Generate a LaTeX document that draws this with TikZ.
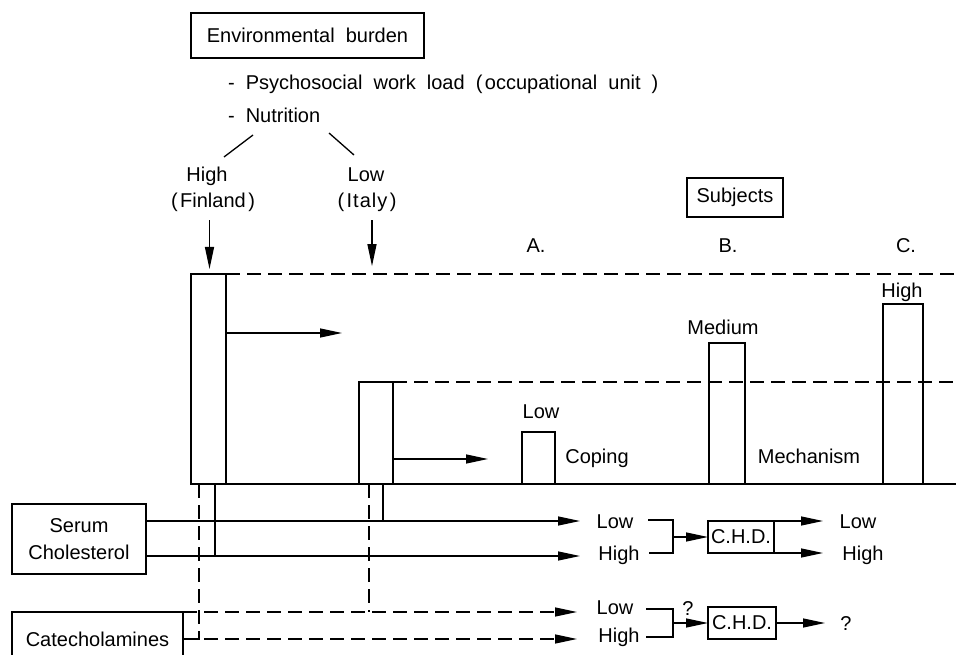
\documentclass[tikz,border=0pt]{standalone}
\usepackage{fontspec}
\setmainfont[WordSpace=2]{Liberation Sans}
\usetikzlibrary{arrows.meta,calc}
\newcommand{\lp}{(\kern2.5pt}
\newcommand{\rp}{\kern2.5pt)}
\begin{document}
\begin{tikzpicture}[x=1pt,y=-1pt,
  every node/.style={font=\fontsize{20}{24}\selectfont, inner sep=0pt, outer sep=0pt},
  box/.style={draw, line width=1.3pt},
  bar/.style={draw, line width=1.9pt},
  conn/.style={line width=1.3pt},
  arr/.style={conn, -{Triangle[length=22pt,width=9pt]}},
  dashline/.style={conn, dash pattern=on 14pt off 7pt},
]
\useasboundingbox (0,0) rectangle (956,655);
\clip (0,0) rectangle (956,655);

% ---- header
\node[box, minimum width=233pt, minimum height=45pt] (env) at (307.5,35.5) {Environmental burden};
\node[anchor=base west] (psy) at (228,90) {- Psychosocial work load \lp occupational unit )};
\node[anchor=base west] (nut) at (228,123) {- Nutrition};
\node[anchor=base] (hi) at (207,182) {High};
\node[anchor=base] (fin) at (213,208) {\lp Finland\rp};
\node[anchor=base] (lo) at (366,182) {Low};
\node[anchor=base] (ita) at (367,208) {\lp I\kern1pt t\kern1pt a\kern1pt l\kern1pt y\rp};

\coordinate (nl1) at (253,135); \coordinate (nl2) at (224,157);
\coordinate (nr1) at (329,133); \coordinate (nr2) at (354,155);
\draw[conn] (nl1) -- (nl2);
\draw[conn] (nr1) -- (nr2);

\node[box, minimum width=96pt, minimum height=39pt] (subj) at (735,197.5) {Subjects};
\node[anchor=base] (la) at (536,252) {A.};
\node[anchor=base] (lb) at (728,252) {B.};
\node[anchor=base] (lc) at (906,252) {C.};

% ---- bars
\node[bar, anchor=south west, minimum width=35pt, minimum height=210pt] (finbar) at (191,484) {};
\node[bar, anchor=south west, minimum width=34pt, minimum height=102pt] (itabar) at (359,484) {};
\node[bar, anchor=south west, minimum width=33pt, minimum height=52pt] (barA) at (522,484) {};
\node[bar, anchor=south west, minimum width=36pt, minimum height=141pt] (barB) at (709,484) {};
\node[bar, anchor=south west, minimum width=40pt, minimum height=180pt] (barC) at (883,484) {};
\coordinate (edge) at (956,484);
\draw[bar] (finbar.south west) -- (edge);

\draw[dashline] (finbar.north east) -- (finbar.north east -| edge);
\draw[dashline] (itabar.north east) -- (itabar.north east -| edge);

\node[anchor=base] (tA) at (541,418) {Low};
\node[anchor=base] (tB) at (723,334) {Medium};
\node[anchor=base] (tC) at (902,297) {High};
\node[anchor=base] (cop) at (597,463) {Coping};
\node[anchor=base] (mech) at (809,463) {Mechanism};

\draw[arr] ($(finbar.north |- fin.south)+(1,8)$) -- ($(finbar.north)+(1,-5)$);
\draw[arr] ($(ita.south)+(5,8)$) -- ($(ita.south)+(5,54)$);
\draw[arr] ($(finbar.north east)+(0,59)$) -- ++(116,0);
\draw[arr] ($(itabar.north east)+(0,77)$) -- ++(95,0);

% ---- risk factors
\node[box, minimum width=134pt, minimum height=70pt, align=center] (serum) at (79,539)
  {Serum\\[3pt]Cholesterol};
\node[box, minimum width=171pt, minimum height=54pt] (cat) at (97.5,639) {Catecholamines};

\coordinate (tipx) at (580,0);
\coordinate (sL) at ($(serum.east)+(0,-18)$);
\coordinate (sH) at ($(serum.east)+(0,17)$);
\draw[arr] (sL) -- (sL -| tipx);
\draw[arr] (sH) -- (sH -| tipx);

\coordinate (fv) at ($(finbar.south west)+(24,0)$);
\coordinate (iv) at ($(itabar.south west)+(24,0)$);
\draw[conn] (fv) -- (fv |- sH);
\draw[conn] (iv) -- (iv |- sL);

\coordinate (fd) at ($(finbar.south west)+(8,0)$);
\coordinate (id) at ($(itabar.south west)+(10,0)$);
\draw[dashline] (fd) -- (fd |- cat.east) -- (cat.east);
\draw[dashline] (id) -- (id |- cat.north);
\draw[dashline, -{Triangle[length=22pt,width=9pt]}] (cat.north east) -- ($(cat.north east -| tipx)+(-3,0)$);
\draw[dashline, -{Triangle[length=22pt,width=9pt]}] (cat.east) -- ($(cat.east -| tipx)+(-3,0)$);

% ---- outcomes
\node[anchor=base] (lowA) at (615,528) {Low};
\node[anchor=base] (highA) at (619,560) {High};
\node[box, minimum width=66pt, minimum height=32pt] (chdA) at (741,537) {C.H.D.};
\node[anchor=base] (rlow) at (858,528) {Low};
\node[anchor=base] (rhigh) at (863,560) {High};
\coordinate (brAt) at (648,520); \coordinate (brAb) at (649,553); \coordinate (jA) at (673,537);
\draw[conn] (brAt) -| (jA) |- (brAb);
\draw[arr] (jA) -- (chdA.west);
\draw[arr] (chdA.north east) -- ++(49,0);
\draw[arr] (chdA.south east) -- ++(49,0);

\node[anchor=base] (lowB) at (615,614) {Low};
\node[anchor=base] (highB) at (619,642) {High};
\node[box, minimum width=68pt, minimum height=32pt] (chdB) at (742,623) {C.H.D.};
\node[anchor=base] (qA) at (688,615) {?};
\node[anchor=base] (qB) at (846,630) {?};
\coordinate (brBt) at (646,609); \coordinate (brBb) at (646,637); \coordinate (jB) at (673,623);
\draw[conn] (brBt) -| (jB) |- (brBb);
\draw[arr] (jB) -- (chdB.west);
\draw[arr] (chdB.east) -- ++(49,0);
\end{tikzpicture}
\end{document}
